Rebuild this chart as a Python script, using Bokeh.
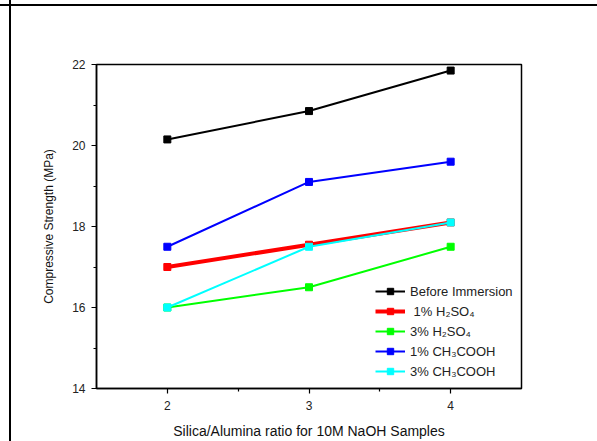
from bokeh.plotting import figure
from bokeh.models import FixedTicker, Range1d, Legend, LegendItem, InlineStyleSheet
from bokeh.embed import file_html
from bokeh.resources import INLINE

ratios = [2, 3, 4]
before_immersion = [20.15, 20.85, 21.85]
h2so4_1 = [17.0, 17.55, 18.1]
h2so4_3 = [16.0, 16.5, 17.5]
ch3cooh_1 = [17.5, 19.1, 19.6]
ch3cooh_3 = [16.0, 17.5, 18.1]

series = [
    ("Before Immersion", before_immersion, "#000000", 2),
    (" 1% H₂SO₄", h2so4_1, "#ff0000", 4),
    ("3% H₂SO₄", h2so4_3, "#00ff00", 2),
    ("1% CH₃COOH", ch3cooh_1, "#0000ff", 2),
    ("3% CH₃COOH", ch3cooh_3, "#00ffff", 2),
]

FONT = "Liberation Sans"

p = figure(width=597, height=441, output_backend="svg", toolbar_location=None,
           x_range=Range1d(1.5, 4.5), y_range=Range1d(14, 22),
           min_border_left=96, min_border_right=76, min_border_top=64, min_border_bottom=51)
p.xgrid.visible = False
p.ygrid.visible = False
p.outline_line_color = "black"
p.outline_line_width = 1.5
p.background_fill_color = "white"
p.border_fill_alpha = 0

items = []
for label, ys, color, lw in series:
    r1 = p.line(ratios, ys, line_color=color, line_width=lw)
    r2 = p.scatter(ratios, ys, marker="square", size=7, fill_color=color, line_color=color)
    items.append(LegendItem(label=label, renderers=[r1, r2]))

legend = Legend(items=items, location=(275, 5), background_fill_alpha=0, border_line_alpha=0,
                label_text_font=FONT, label_text_font_size="13px", label_text_color="#222",
                glyph_width=30, glyph_height=16, label_height=16, spacing=4,
                label_standoff=5, padding=4, margin=0)
p.add_layout(legend)

p.xaxis.ticker = FixedTicker(ticks=[2, 3, 4], minor_ticks=[2.5, 3.5])
p.yaxis.ticker = FixedTicker(ticks=[14, 16, 18, 20, 22], minor_ticks=[15, 17, 19, 21])
for ax in (p.xaxis[0], p.yaxis[0]):
    ax.axis_line_color = "black"
    ax.axis_line_width = 1.5
    ax.major_tick_line_color = "black"
    ax.minor_tick_line_color = "black"
    ax.major_tick_line_width = 1.2
    ax.minor_tick_line_width = 1.2
    ax.major_tick_out = 5
    ax.major_tick_in = 0
    ax.minor_tick_out = 3
    ax.minor_tick_in = 0
    ax.major_label_text_font = FONT
    ax.major_label_text_font_size = "12px"
    ax.major_label_text_color = "#222"
    ax.axis_label_text_font = FONT
    ax.axis_label_text_font_style = "normal"
    ax.axis_label_text_color = "#111"

p.xaxis.axis_label_text_font_size = "14px"
p.yaxis.axis_label_text_font_size = "12px"
p.xaxis.axis_label = "Silica/Alumina ratio for 10M NaOH Samples"
p.yaxis.axis_label = "Compressive Strength (MPa)"
p.xaxis.major_label_standoff = 7
p.xaxis.axis_label_standoff = 10
p.yaxis.major_label_standoff = 6
p.yaxis.axis_label_standoff = 13

# page border lines seen in the reference picture (left and top rules)
p.stylesheets = [InlineStyleSheet(css=""":host {
  background:
    linear-gradient(#000, #000) 9px 0 / 2px 100% no-repeat,
    linear-gradient(#000, #000) 0 4px / 100% 2px no-repeat,
    #fff;
}""")]

open("out.html", "w").write(file_html(p, INLINE))
